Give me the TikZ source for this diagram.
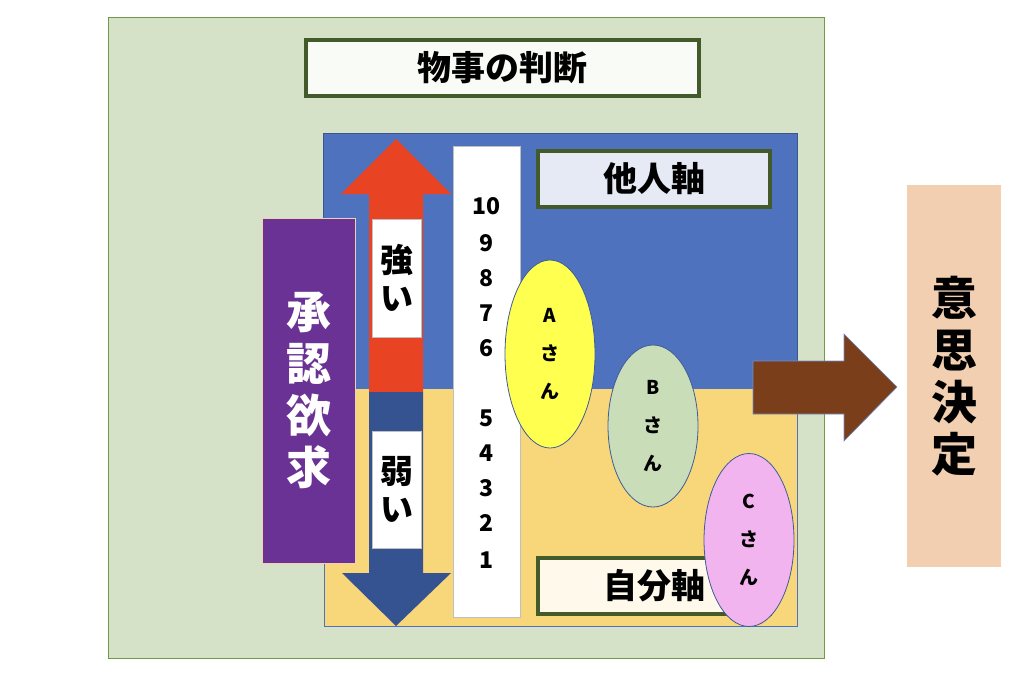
\documentclass[tikz,border=0pt]{standalone}
\usepackage{fontspec}
\setmainfont{Noto Sans CJK JP}
\usepackage{xcolor}
\usetikzlibrary{shapes.geometric}
\definecolor{paneGreen}{HTML}{D5E2C8}
\definecolor{paneEdge}{HTML}{70994A}
\definecolor{otherBlue}{HTML}{4F72BE}
\definecolor{selfYellow}{HTML}{F8D77A}
\definecolor{frameGreen}{HTML}{435B2A}
\definecolor{upRed}{HTML}{E84424}
\definecolor{downBlue}{HTML}{365391}
\definecolor{wantPurple}{HTML}{6A3294}
\definecolor{decidePeach}{HTML}{F2CFB1}
\definecolor{goBrown}{HTML}{7A3F1A}
\definecolor{aYellow}{HTML}{FFFF50}
\definecolor{bGreen}{HTML}{C9DDB8}
\definecolor{cPink}{HTML}{F2B4EE}
\tikzset{
  labelbox/.style={draw=frameGreen,line width=4pt,inner sep=0pt,
    minimum width=232,minimum height=56,
    font=\bfseries\fontsize{34}{40}\selectfont},
  vbox/.style={inner sep=0pt,align=center},
  person/.style={ellipse,draw=otherBlue!80!black,line width=0.8pt,inner sep=0pt,
    minimum width=90,align=center,font=\bfseries\fontsize{19}{38}\selectfont},
  num/.style={font=\bfseries\fontsize{23}{26}\selectfont,inner sep=0pt}
}
\begin{document}
\begin{tikzpicture}[x=1pt,y=-1pt]
  \useasboundingbox (0,0) rectangle (1024,675);
  % background panel
  \draw[paneEdge,fill=paneGreen,line width=1pt] (108,17) rectangle (824,658);
  \node[labelbox,fill=white!85!paneGreen,minimum width=393] (title) at (502.5,68) {物事の判断};
  % two axes
  \draw[otherBlue!75!black,fill=otherBlue] (323,133) rectangle (797,388);
  \draw[otherBlue,fill=selfYellow] (324,388) rectangle (797,626);
  % strong / weak arrows
  \fill[upRed] (369,392) -- (369,194) -- (341,194) -- (396,139) -- (451,194)
    -- (423,194) -- (423,392) -- cycle;
  \fill[downBlue] (369,392) -- (369,573) -- (342,573) -- (396,626) -- (451,573)
    -- (423,573) -- (423,392) -- cycle;
  \node[vbox,draw=black!25,fill=white,minimum width=49,minimum height=118,
    font=\bfseries\fontsize{33}{38}\selectfont] (strong) at (396.5,278) {強\\い};
  \node[vbox,draw=black!25,fill=white,minimum width=49,minimum height=117,
    font=\bfseries\fontsize{33}{38}\selectfont] (weak) at (396.5,489.5) {弱\\い};
  \node[vbox,draw=decidePeach,fill=wantPurple,text=white,minimum width=93,
    minimum height=345,font=\bfseries\fontsize{45}{52}\selectfont]
    (want) at (308.5,390.5) {承\\認\\欲\\求};
  % scale
  \node[draw=black!25,fill=white,inner sep=0pt,minimum width=67,minimum height=471]
    (scale) at (486.5,381.5) {};
  \foreach \n/\y in {10/206,9/243,8/278,7/313,6/348,5/418,4/453,3/488,2/523,1/560}
    \node[num] (n\n) at (486,\y) {\n};
  \node[labelbox,fill=otherBlue!15!white] (other) at (654,179) {他人軸};
  \node[labelbox,fill=selfYellow!15!white] (self) at (654,586) {自分軸};
  % people
  \node[person,fill=aYellow,minimum height=188] (pa) at (550,354) {A\\さ\\ん};
  \node[person,fill=bGreen,minimum height=162] (pb) at (653,426) {B\\さ\\ん};
  \node[person,fill=cPink,minimum height=173] (pc) at (749,540) {C\\さ\\ん};
  % decision
  \draw[otherBlue!80!white,fill=goBrown,line width=0.6pt] (753,361) -- (844,361) -- (844,334)
    -- (897,387) -- (844,441) -- (844,414) -- (753,414) -- cycle;
  \node[vbox,fill=decidePeach,minimum width=94,minimum height=382,
    font=\bfseries\fontsize{46}{52}\selectfont] (decide) at (954,376) {意\\思\\決\\定};
\end{tikzpicture}
\end{document}
